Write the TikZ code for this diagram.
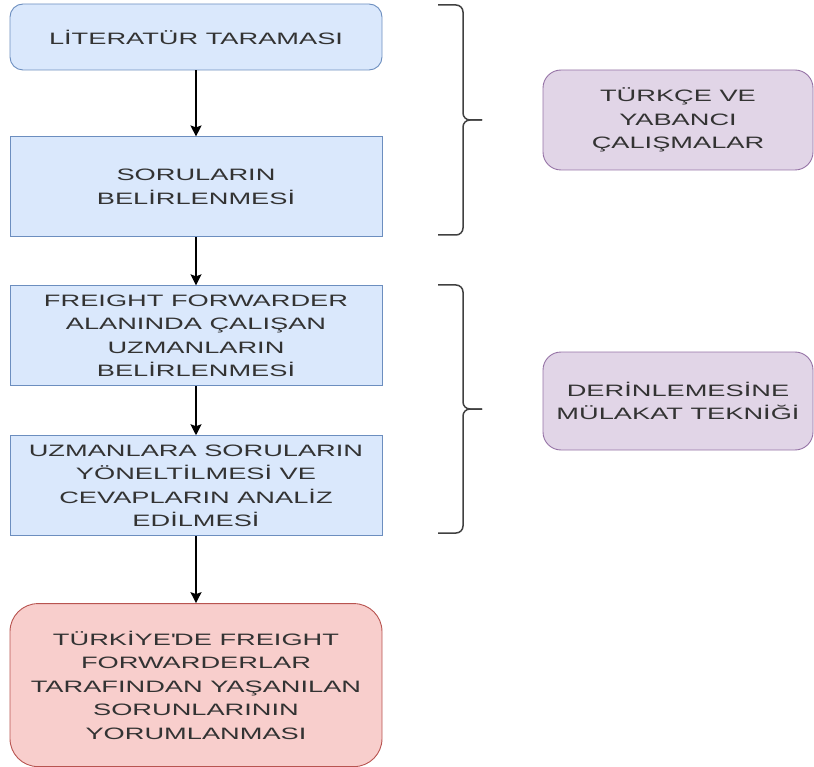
\documentclass[tikz,border=0pt]{standalone}
\usepackage{fontspec}
\setmainfont{Liberation Sans}[FakeStretch=1.65]
\usepackage{tikz}
\usetikzlibrary{arrows.meta,positioning}
\definecolor{stepfill} {HTML}{DAE8FC}
\definecolor{stepdraw} {HTML}{6C8EBF}
\definecolor{endfill}  {HTML}{F8CECC}
\definecolor{enddraw}  {HTML}{B85450}
\definecolor{notefill} {HTML}{E1D5E7}
\definecolor{notedraw} {HTML}{9673A6}
\tikzset{
  box/.style  ={rectangle,draw=stepdraw,fill=stepfill,line width=0.9pt,
                 minimum width=372pt,minimum height=100pt,inner sep=2pt,
                 align=center,text=black!80,
                 font=\fontsize{16.5}{23.5}\selectfont},
  boxr/.style ={box,rounded corners=13pt},
  res/.style  ={box,draw=enddraw,fill=endfill,rounded corners=28pt,
                 minimum height=163pt},
  note/.style ={box,draw=notedraw,fill=notefill,rounded corners=18pt,
                 minimum width=270pt},
  arr/.style  ={-{Stealth[length=11pt,width=11pt,inset=2pt]},line width=1.6pt},
  brc/.style  ={line width=1.5pt,draw=black!75,rounded corners=7pt},
}

\begin{document}
\begin{tikzpicture}
  \useasboundingbox (0,0) rectangle (814pt,-767pt);
  % nodes
  \node[boxr,minimum height=66pt] (lit)  at (196pt,-37pt) {LİTERATÜR TARAMASI};
  \node[box, below=66pt of lit]   (soru) {SORULARIN\\BELİRLENMESİ};
  \node[box, below=48pt of soru]  (uzm)  {FREIGHT FORWARDER\\ALANINDA ÇALIŞAN\\UZMANLARIN\\BELİRLENMESİ};
  \node[box, below=49pt of uzm]   (anlz) {UZMANLARA SORULARIN\\YÖNELTİLMESİ VE\\CEVAPLARIN ANALİZ\\EDİLMESİ};
  \node[res, below=67pt of anlz]  (yor)  {TÜRKİYE\textquotesingle DE FREIGHT\\FORWARDERLAR\\TARAFINDAN YAŞANILAN\\SORUNLARININ\\YORUMLANMASI};
  \node[note,minimum height=100pt] (tyc) at (678pt,-120pt) {TÜRKÇE VE\\YABANCI\\ÇALIŞMALAR};
  \node[note,minimum height=98pt]  (dmt) at (678pt,-401pt) {DERİNLEMESİNE\\MÜLAKAT TEKNİĞİ};
  % flow
  \draw[arr] (lit)  -- (soru);
  \draw[arr] (soru) -- (uzm);
  \draw[arr] (uzm)  -- (anlz);
  \draw[arr] (anlz) -- (yor);
  % braces
  \draw[brc] (438pt,-5pt) -- (463pt,-5pt) -- (463pt,-120pt) -- (482pt,-120pt);
  \draw[brc] (482pt,-120pt) -- (463pt,-120pt) -- (463pt,-235pt) -- (438pt,-235pt);
  \draw[brc] (438pt,-285pt) -- (463pt,-285pt) -- (463pt,-409pt) -- (482pt,-409pt);
  \draw[brc] (482pt,-409pt) -- (463pt,-409pt) -- (463pt,-533pt) -- (438pt,-533pt);
\end{tikzpicture}
\end{document}
